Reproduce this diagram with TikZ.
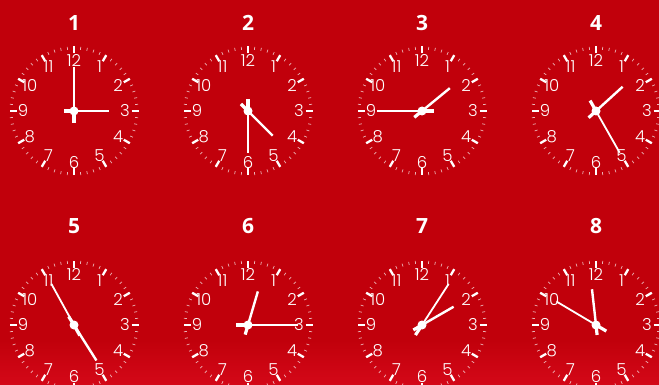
\documentclass[tikz,border=0pt]{standalone}
\usepackage{fontspec}
\newfontfamily\numfont{Poppins Light}
\newfontfamily\titlefont{Open Sans}
\definecolor{bg}{RGB}{193,0,11}
\definecolor{bgb}{RGB}{212,8,24}
\tikzset{
  majortick/.style={white, line width=2.3pt},
  minortick/.style={white, opacity=0.7, line width=0.7pt},
  hourhand/.style={white, line width=2.4pt},
  minhand/.style={white, line width=1.8pt},
  tailhand/.style={white, line width=3.2pt},
  num/.style={text=white, font=\numfont\fontsize{16.5}{16.5}\selectfont, inner sep=0pt},
  cltitle/.style={text=white, font=\titlefont\bfseries\fontsize{21}{21}\selectfont, inner sep=0pt},
}
% name, x, y, title, title y, hour angle, hour length, minute angle, minute length
\newcommand\myclock[9]{%
  \node[cltitle] (t#1) at (#2,#5) {#4};
  \begin{scope}[shift={(#2,#3)}]
    \coordinate (c#1) at (0,0);
    \foreach \i in {0,...,59}{%
      \pgfmathtruncatemacro\m{mod(\i,5)}%
      \ifnum\m=0
        \draw[majortick] (\i*6-90:57.5) -- (\i*6-90:64.5);
      \else
        \draw[minortick] (\i*6-90:61.5) -- (\i*6-90:64.5);
      \fi}
    \foreach \h in {1,...,12}{\node[num] (n#1-\h) at (\h*30-90:51) {\h};}
    \draw[minhand] (c#1) -- (#8-90:#9);
    \draw[tailhand] (c#1) -- (#8+90:12);
    \draw[hourhand] (c#1) -- (#6-90:#7);
    \draw[tailhand] (c#1) -- (#6+90:10);
    \fill[white] (c#1) circle (4.5);
  \end{scope}}
\begin{document}
\begin{tikzpicture}[x=1pt,y=-1pt]
  \useasboundingbox (0,0) rectangle (659,385);
  \fill[bg] (0,0) rectangle (659,385);
  \shade[top color=bg, bottom color=bgb] (0,340) rectangle (659,385);
  \myclock{a}{74}{111}{1}{23}{90}{35}{0}{44}
  \myclock{b}{248}{111}{2}{23}{135}{35}{180}{42}
  \myclock{c}{422}{111}{3}{23}{50.6}{36}{270}{45}
  \myclock{d}{596}{111}{4}{23}{47.7}{36}{150.4}{48}
  \myclock{e}{74}{325}{5}{226}{147.7}{42}{331.2}{47}
  \myclock{f}{248}{325}{6}{226}{16.4}{35}{90}{50}
  \myclock{g}{422}{325}{7}{226}{60}{36.5}{33}{49}
  \myclock{h}{596}{325}{8}{226}{353.6}{36}{300.7}{46}
\end{tikzpicture}
\end{document}
